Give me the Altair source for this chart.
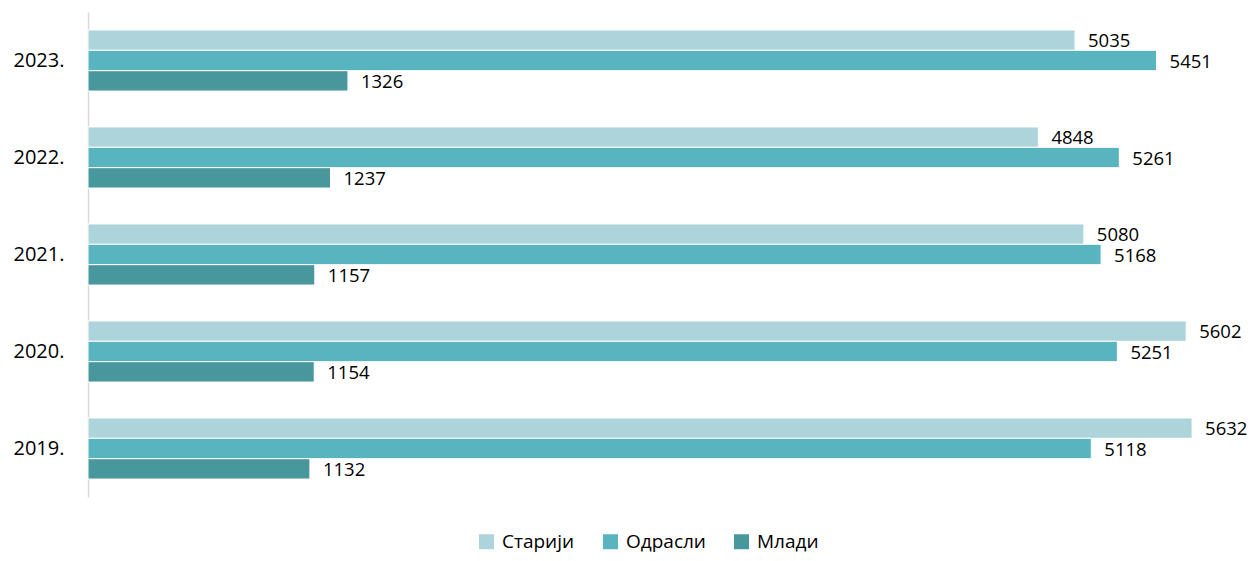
import altair as alt
import pandas as pd

years = ["2023.", "2022.", "2021.", "2020.", "2019."]
series = ["Старији", "Одрасли", "Млади"]
stariji = [5035, 4848, 5080, 5602, 5632]
odrasli = [5451, 5261, 5168, 5251, 5118]
mladi = [1326, 1237, 1157, 1154, 1132]
colors = ["#ADD4DA", "#58B5C0", "#48979D"]

rows = []
for i, y in enumerate(years):
    for s, vals in zip(series, [stariji, odrasli, mladi]):
        rows.append({"year": y, "series": s, "value": vals[i]})
df = pd.DataFrame(rows)

FONT = "Open Sans"

y_enc = alt.Y("year:N", sort=years, title=None,
              scale=alt.Scale(paddingInner=0.37, paddingOuter=0.185),
              axis=alt.Axis(labelFont=FONT, labelFontSize=20, labelColor="#000000",
                            ticks=False, labelPadding=24, domainColor="#D9D9D9",
                            domainWidth=1.5, grid=False))
x_enc = alt.X("value:Q", scale=alt.Scale(domain=[0, 5800], nice=False), axis=None)
yoff = alt.YOffset("series:N", sort=series, scale=alt.Scale(paddingInner=0, paddingOuter=0))
color = alt.Color("series:N", sort=series,
                  scale=alt.Scale(domain=series, range=colors),
                  legend=alt.Legend(title=None, orient="none", direction="horizontal",
                                    legendX=389, legendY=520, labelFont=FONT,
                                    labelFontSize=19, labelColor="#000000",
                                    symbolType="square", symbolSize=225,
                                    symbolStrokeWidth=0, columnPadding=26,
                                    labelOffset=6, padding=0))

bars = alt.Chart(df).mark_bar(stroke="white", strokeWidth=1).encode(
    y=y_enc, x=x_enc, yOffset=yoff, color=color
)
labels = alt.Chart(df).mark_text(align="left", baseline="middle", dx=13, dy=1,
                                 font=FONT, fontSize=18.5, color="#000000").encode(
    y=alt.Y("year:N", sort=years), x="value:Q", yOffset=alt.YOffset("series:N", sort=series),
    text="value:Q"
)

chart = alt.layer(bars, labels).properties(
    width=1137, height=485,
    autosize=alt.AutoSizeParams(type="none"),
    padding={"left": 80, "top": 4, "right": 26, "bottom": 56},
).configure_view(stroke=None)

chart.save("out.html", embed_options={"renderer": "svg", "actions": False})
